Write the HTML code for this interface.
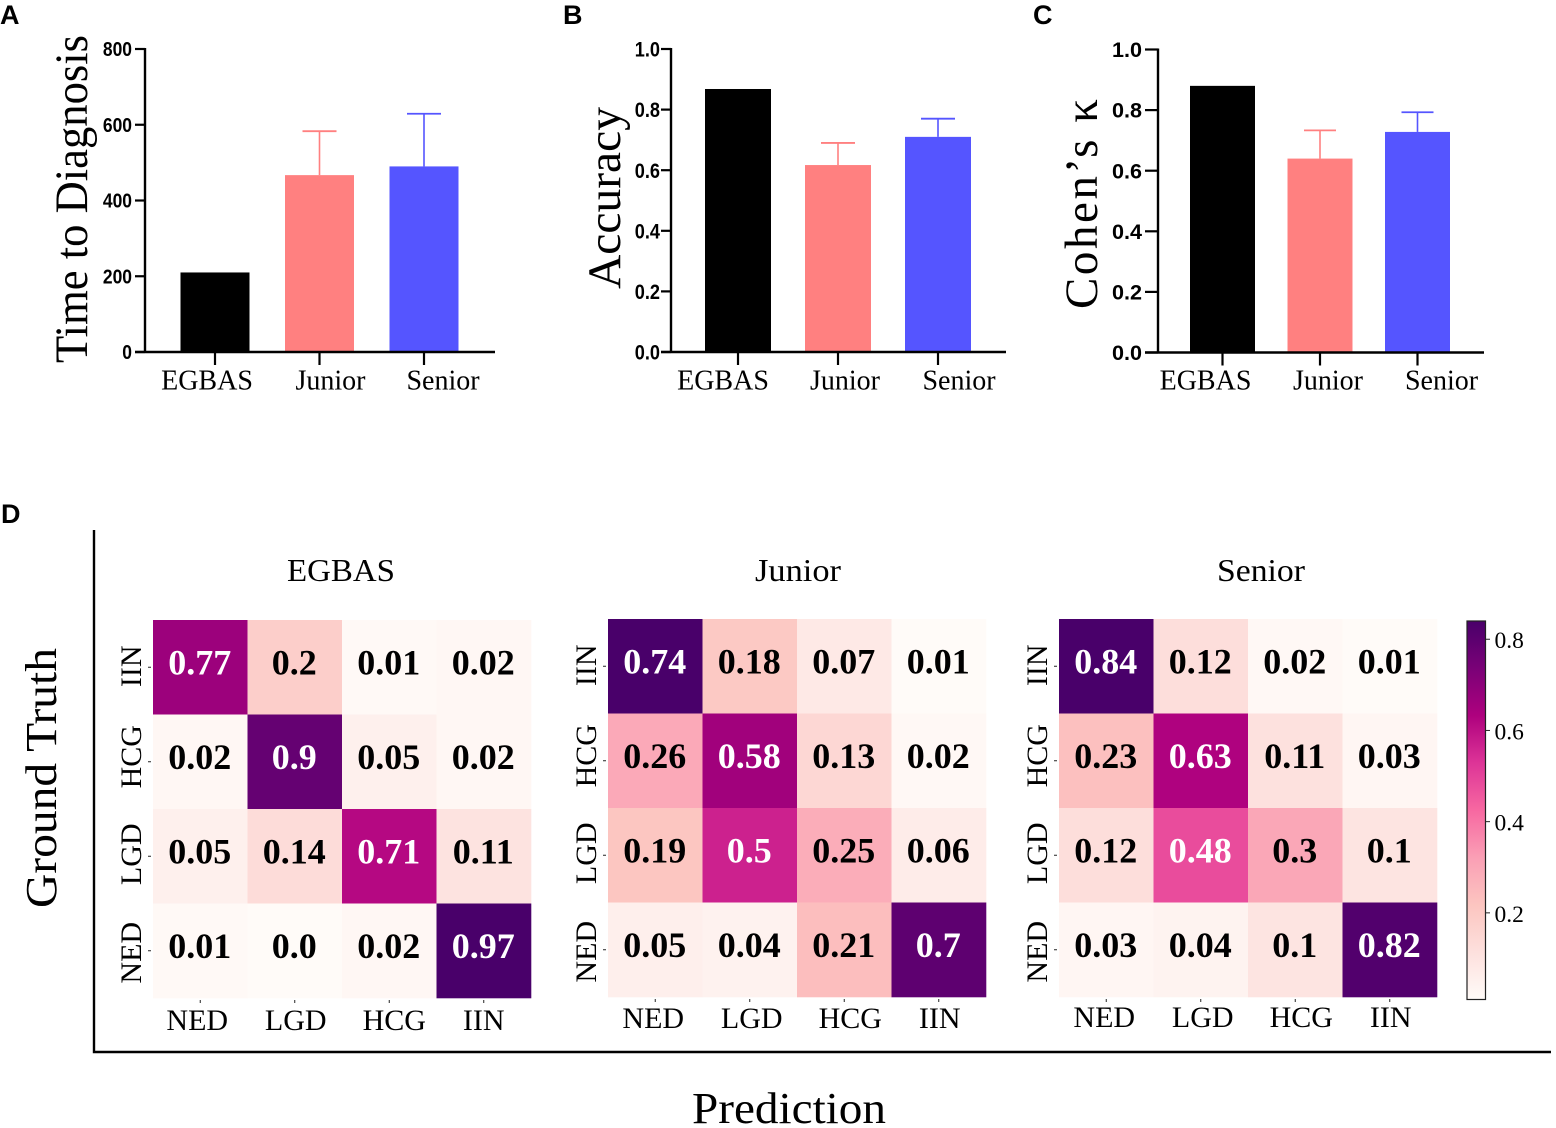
<!DOCTYPE html>
<html lang="en">
<head>
<meta charset="utf-8">
<title>EGBAS vs Junior and Senior comparison</title>
<style>
html,body{margin:0;padding:0;background:#fff;}
svg{display:block;}
text{font-family:"Liberation Serif","DejaVu Serif",serif;fill:#000;}
.sans{font-family:"Liberation Sans","DejaVu Sans",sans-serif;font-weight:bold;}
</style>
</head>
<body>
<svg id="figure" xmlns="http://www.w3.org/2000/svg" width="1556" height="1128" viewBox="0 0 1556 1128">
  <defs>
    <linearGradient id="colorbar-gradient" x1="0" y1="1" x2="0" y2="0"></linearGradient>
  </defs>
  <rect width="1556" height="1128" fill="#fff"/>
  <text class="sans" x="0" y="24" font-size="27">A</text>
  <text class="sans" x="563" y="24" font-size="27">B</text>
  <text class="sans" x="1033" y="24" font-size="27">C</text>
  <text class="sans" x="1" y="523" font-size="27">D</text>
  <text transform="translate(87,363) rotate(-90)" font-size="47" textLength="328" lengthAdjust="spacingAndGlyphs">Time to Diagnosis</text>
  <text transform="translate(620,289) rotate(-90)" font-size="47" textLength="182" lengthAdjust="spacingAndGlyphs">Accuracy</text>
  <text transform="translate(1097,309) rotate(-90)" font-size="47" textLength="210" lengthAdjust="spacing">Cohen’s κ</text>
  <text transform="translate(56,908) rotate(-90)" font-size="44" textLength="260" lengthAdjust="spacingAndGlyphs">Ground Truth</text>
  <text x="692" y="1123" font-size="44" textLength="194" lengthAdjust="spacingAndGlyphs">Prediction</text>
  <path d="M94 530V1052H1551" fill="none" stroke="#000" stroke-width="2.4"/>
  <text x="287" y="581" font-size="32" textLength="108" lengthAdjust="spacingAndGlyphs">EGBAS</text>
  <text x="755" y="581" font-size="32" textLength="86" lengthAdjust="spacingAndGlyphs">Junior</text>
  <text x="1217" y="581" font-size="32" textLength="88" lengthAdjust="spacingAndGlyphs">Senior</text>
</svg>
<script>
// ---- Bar chart data ----
const barCategories = ['EGBAS', 'Junior', 'Senior'];
const timeValues = [210, 467, 490];
const timeErrorTops = [null, 583, 629];
const timeTicks = ['0', '200', '400', '600', '800'];
const accuracyValues = [0.868, 0.617, 0.71];
const accuracyErrorTops = [null, 0.69, 0.77];
const accuracyTicks = ['0.0', '0.2', '0.4', '0.6', '0.8', '1.0'];
const kappaValues = [0.88, 0.64, 0.728];
const kappaErrorTops = [null, 0.733, 0.793];
const kappaTicks = ['0.0', '0.2', '0.4', '0.6', '0.8', '1.0'];

// ---- Confusion matrix data (rows top to bottom, columns left to right) ----
const matrixColumns = ['NED', 'LGD', 'HCG', 'IIN'];
const matrixRows = ['IIN', 'HCG', 'LGD', 'NED'];
const egbasMatrix = [
  [0.77, 0.2, 0.01, 0.02],
  [0.02, 0.9, 0.05, 0.02],
  [0.05, 0.14, 0.71, 0.11],
  [0.01, 0.0, 0.02, 0.97]
];
const juniorMatrix = [
  [0.74, 0.18, 0.07, 0.01],
  [0.26, 0.58, 0.13, 0.02],
  [0.19, 0.5, 0.25, 0.06],
  [0.05, 0.04, 0.21, 0.7]
];
const seniorMatrix = [
  [0.84, 0.12, 0.02, 0.01],
  [0.23, 0.63, 0.11, 0.03],
  [0.12, 0.48, 0.3, 0.1],
  [0.03, 0.04, 0.1, 0.82]
];
const colorbarTicks = [0.2, 0.4, 0.6, 0.8];
const colorbarMin = 0.01;
const colorbarMax = 0.84;
const rdPuStops = ['#fffbf8', '#fde0dd', '#fcc5c0', '#fa9fb5', '#f768a1', '#dd3497', '#ae017e', '#7a0177', '#49006a'];

const svg = document.getElementById('figure');
const NS = 'http://www.w3.org/2000/svg';

function make(tag, attrs, parent, content) {
  const el = document.createElementNS(NS, tag);
  for (const k in attrs) el.setAttribute(k, attrs[k]);
  if (content !== undefined) el.textContent = content;
  (parent || svg).appendChild(el);
  return el;
}

function hexRgb(h) {
  return [parseInt(h.slice(1, 3), 16), parseInt(h.slice(3, 5), 16), parseInt(h.slice(5, 7), 16)];
}

function rdPu(t) {
  const p = Math.max(0, Math.min(1, t)) * (rdPuStops.length - 1);
  const i = Math.min(Math.floor(p), rdPuStops.length - 2);
  const a = hexRgb(rdPuStops[i]);
  const b = hexRgb(rdPuStops[i + 1]);
  const f = p - i;
  return 'rgb(' + a.map((v, j) => Math.round(v + (b[j] - v) * f)).join(',') + ')';
}

function drawBarChart(cfg) {
  const group = make('g', {});
  
  
  const maxTick = parseFloat(cfg.ticks[cfg.ticks.length - 1]);
  const y = v => cfg.y0 - (v / maxTick) * (cfg.y0 - cfg.yTop);

  cfg.values.forEach((v, i) => {
    const left = cfg.barLeft + i * cfg.barStep;
    const centre = left + cfg.barWidth / 2;
    const color = cfg.colors[i];
    const errorTop = cfg.errorTops[i];
    if (errorTop !== null) {
      const stem = make('line', { x1: centre, x2: centre, y1: y(v), y2: y(errorTop), stroke: color, 'stroke-width': 1.6 }, group);
      
      
      const cap = make('line', { x1: centre - cfg.capHalf, x2: centre + cfg.capHalf, y1: y(errorTop), y2: y(errorTop), stroke: color, 'stroke-width': 1.8 }, group);
      
      
    }
    const bar = make('rect', { x: left, y: y(v), width: cfg.barWidth, height: cfg.y0 - y(v), fill: color }, group);
    
    
    const tick = make('line', { x1: centre, x2: centre, y1: cfg.y0, y2: cfg.y0 + 13, stroke: '#000', 'stroke-width': 2.2 }, group);
    
    
    const label = make('text', { x: centre + cfg.labelShift[i], y: 389.5, 'font-size': 28, 'text-anchor': 'middle' }, group, barCategories[i]);
    
    
  });

  const axisY = make('line', { x1: cfg.x0, x2: cfg.x0, y1: cfg.yTop - 1, y2: cfg.y0 + 1, stroke: '#000', 'stroke-width': 2.4 }, group);
  
  
  const axisX = make('line', { x1: cfg.x0 - cfg.tickLen, x2: cfg.xEnd, y1: cfg.y0, y2: cfg.y0, stroke: '#000', 'stroke-width': 2.4 }, group);
  
  

  cfg.ticks.forEach(t => {
    const ty = y(parseFloat(t));
    const tick = make('line', { x1: cfg.x0 - cfg.tickLen, x2: cfg.x0, y1: ty, y2: ty, stroke: '#000', 'stroke-width': 2.2 }, group);
    
    
    const label = make('text', {
      class: 'sans', x: cfg.x0 - cfg.tickLen - cfg.labelGap, y: ty + cfg.tickFont * 0.36, 'font-size': cfg.tickFont, 'text-anchor': 'end',
      textLength: t.length * cfg.tickCharWidth, lengthAdjust: 'spacingAndGlyphs'
    }, group, t);
    
    
  });
}

const barColors = ['#000000', '#ff8080', '#5555ff'];
drawBarChart({ name: 'bar-chart-time-to-diagnosis', values: timeValues, errorTops: timeErrorTops, ticks: timeTicks, colors: barColors,
  x0: 145, xEnd: 495, y0: 352, yTop: 49, barLeft: 180.5, barStep: 104.5, barWidth: 69, capHalf: 17, tickLen: 10, labelGap: 3, labelShift: [-8, 11, 19], tickFont: 20, tickCharWidth: 9.7 });
drawBarChart({ name: 'bar-chart-accuracy', values: accuracyValues, errorTops: accuracyErrorTops, ticks: accuracyTicks, colors: barColors,
  x0: 671, xEnd: 1006, y0: 352, yTop: 49, barLeft: 705, barStep: 100, barWidth: 66, capHalf: 17, tickLen: 10, labelGap: 1, labelShift: [-15, 7, 21], tickFont: 21, tickCharWidth: 8.4 });
drawBarChart({ name: 'bar-chart-cohens-kappa', values: kappaValues, errorTops: kappaErrorTops, ticks: kappaTicks, colors: barColors,
  x0: 1158, xEnd: 1484, y0: 352.5, yTop: 49.5, barLeft: 1190, barStep: 97.5, barWidth: 65, capHalf: 16, tickLen: 13, labelGap: 3, labelShift: [-17, 8, 24], tickFont: 21, tickCharWidth: 10 });

function drawHeatmap(cfg) {
  const group = make('g', {});
  
  
  const size = cfg.cell;
  const flat = cfg.matrix.flat();
  const low = Math.min(...flat);
  const high = Math.max(...flat);
  const colShift = [-3, 1, 5, 0];
  const rowShift = [-1, -5, -2, 2];

  cfg.matrix.forEach((row, r) => {
    row.forEach((v, c) => {
      const norm = (v - low) / (high - low);
      const cx = cfg.x + c * size;
      const cy = cfg.y + r * size;
      const cell = make('rect', { x: cx, y: cy, width: size + 0.3, height: size + 0.3, fill: rdPu(norm) }, group);
      
      
      const printed = Number.isInteger(v) ? v.toFixed(1) : String(v);
      const label = make('text', {
        x: cx + size / 2 - 0.5, y: cy + size / 2 + 7, 'font-size': 36, 'font-weight': 'bold', 'text-anchor': 'middle',
        style: 'fill:' + (norm > 0.45 ? '#fff' : '#000')
      }, group, printed);
      
      
    });
  });

  matrixColumns.forEach((name, c) => {
    const cx = cfg.x + (c + 0.5) * size;
    const tick = make('line', { x1: cx, x2: cx, y1: cfg.y + 4 * size + 2, y2: cfg.y + 4 * size + 5, stroke: '#222', 'stroke-width': 1 }, group);
    
    
    const label = make('text', { x: cx + colShift[c] + cfg.labelNudge, y: cfg.xLabelY, 'font-size': 30, 'text-anchor': 'middle' }, group, name);
    
    
  });

  matrixRows.forEach((name, r) => {
    const cy = cfg.y + (r + 0.5) * size;
    const tick = make('line', { x1: cfg.x - 5, x2: cfg.x - 2, y1: cy, y2: cy, stroke: '#222', 'stroke-width': 1 }, group);
    
    
    const py = cy + rowShift[r];
    const label = make('text', { transform: 'translate(' + (cfg.x - 12) + ',' + py + ') rotate(-90)', 'font-size': 30, 'text-anchor': 'middle' }, group, name);
    
    
  });
}

drawHeatmap({ name: 'heatmap-egbas', matrix: egbasMatrix, x: 153, y: 620, cell: 94.5, xLabelY: 1030, labelNudge: 0 });
drawHeatmap({ name: 'heatmap-junior', matrix: juniorMatrix, x: 608, y: 619, cell: 94.5, xLabelY: 1028, labelNudge: 1 });
drawHeatmap({ name: 'heatmap-senior', matrix: seniorMatrix, x: 1059, y: 619, cell: 94.5, xLabelY: 1027, labelNudge: 1 });

// Colour bar
const gradient = document.getElementById('colorbar-gradient');
rdPuStops.forEach((c, i) => {
  make('stop', { offset: i / (rdPuStops.length - 1), 'stop-color': c }, gradient);
});
const cbGroup = make('g', {});


const cbTop = 621;
const cbBottom = 999.5;
const cbY = v => cbBottom - (v - colorbarMin) / (colorbarMax - colorbarMin) * (cbBottom - cbTop);
const cbRect = make('rect', { x: 1467, y: cbTop, width: 18.5, height: cbBottom - cbTop, fill: 'url(#colorbar-gradient)', stroke: '#222', 'stroke-width': 1.2 }, cbGroup);


colorbarTicks.forEach(v => {
  const tick = make('line', { x1: 1486, x2: 1490, y1: cbY(v), y2: cbY(v), stroke: '#222', 'stroke-width': 1 }, cbGroup);
  
  
  const label = make('text', { x: 1494.5, y: cbY(v) + 9, 'font-size': 23.5 }, cbGroup, v.toFixed(1));
  
  
});
</script>
</body>
</html>
